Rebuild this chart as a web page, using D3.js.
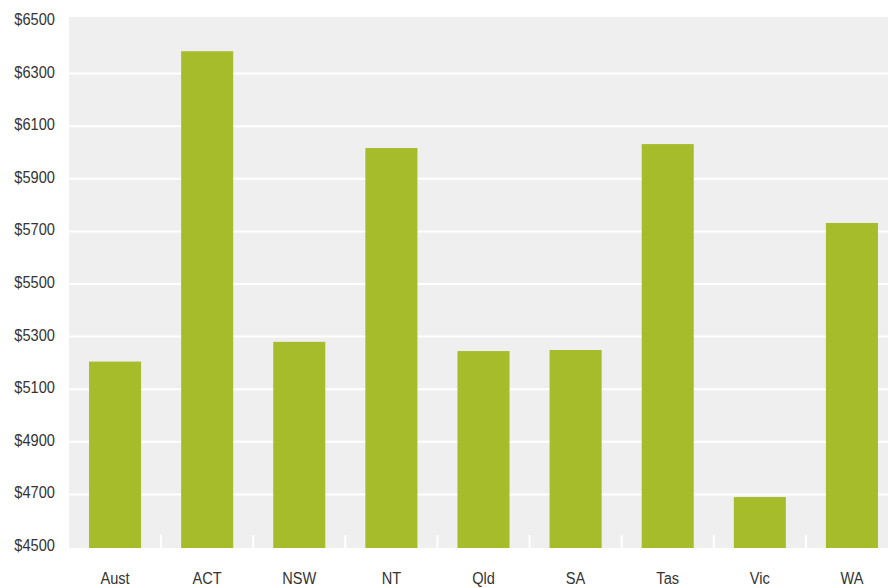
<!DOCTYPE html>
<html>
<head>
<meta charset="utf-8">
<script src="https://cdn.jsdelivr.net/npm/d3@7"></script>
<style>
  body { margin: 0; background: #fff; }
  text { font-family: "Liberation Sans Narrow", "Arial Narrow", "Liberation Sans", sans-serif; fill: #333; }
</style>
</head>
<body>
<div id="chart"></div>
<script>
var states = ['Aust', 'ACT', 'NSW', 'NT', 'Qld', 'SA', 'Tas', 'Vic', 'WA'];
var costs = [5205, 6385, 5280, 6017, 5245, 5249, 6032, 4690, 5732];
var yTicks = [4500, 4700, 4900, 5100, 5300, 5500, 5700, 5900, 6100, 6300, 6500];

document.addEventListener('DOMContentLoaded', function(e) {
  var width = 888, height = 588;
  var left = 69, top = 17, bottom = 548, right = 898;
  var squeeze = 0.86; // fake a condensed face

  var svg = d3.select('#chart').append('svg')
              .attr('width', width)
              .attr('height', height);

  // plot background
  svg.append('rect')
     .attr('x', left)
     .attr('y', top)
     .attr('width', right - left)
     .attr('height', bottom - top)
     .attr('fill', '#efefef');

  var x = d3.scaleBand().domain(states).range([left, right]).paddingInner(0.435).paddingOuter(0.2175);
  var y = d3.scaleLinear().domain([4500, 6500]).range([547, 21]);

  // white gridlines
  svg.selectAll('.grid')
     .data(yTicks.slice(1, -1))
     .enter().append('line')
     .attr('x1', left).attr('x2', right)
     .attr('y1', function(d) { return y(d); })
     .attr('y2', function(d) { return y(d); })
     .attr('stroke', '#fff')
     .attr('stroke-width', 2);

  // bars
  svg.selectAll('.bar')
     .data(costs)
     .enter().append('rect')
     .attr('x', function(d, i) { return x(states[i]); })
     .attr('width', x.bandwidth())
     .attr('y', function(d) { return y(d); })
     .attr('height', function(d) { return bottom - y(d); })
     .attr('fill', '#a6bc2b');

  // small white ticks between categories
  var step = x.step();
  svg.selectAll('.sep')
     .data(states.slice(1))
     .enter().append('line')
     .attr('x1', function(d) { return x(d) - (step - x.bandwidth()) / 2; })
     .attr('x2', function(d) { return x(d) - (step - x.bandwidth()) / 2; })
     .attr('y1', bottom - 13)
     .attr('y2', bottom)
     .attr('stroke', '#fff')
     .attr('stroke-width', 2);

  // y labels
  svg.selectAll('.ylab')
     .data(yTicks)
     .enter().append('text')
     .attr('transform', function(d) { return 'translate(55,' + (y(d) - 2) + ') scale(' + squeeze + ',1)'; })
     .attr('dy', '0.35em')
     .attr('text-anchor', 'end')
     .style('font-size', '17px')
     .text(function(d) { return '$' + d; });

  // x labels
  svg.selectAll('.xlab')
     .data(states)
     .enter().append('text')
     .attr('transform', function(d) { return 'translate(' + (x(d) + x.bandwidth() / 2) + ',584) scale(' + squeeze + ',1)'; })
     .attr('text-anchor', 'middle')
     .style('font-size', '17px')
     .text(function(d) { return d; });
});
</script>
</body>
</html>
